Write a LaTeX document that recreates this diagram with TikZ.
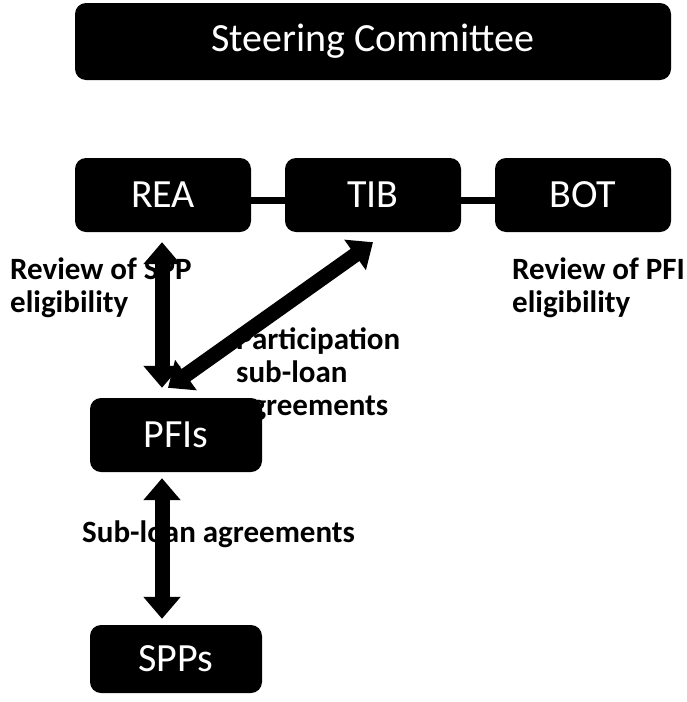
\documentclass[tikz,border=0pt]{standalone}
\usepackage{fontspec}
\setmainfont{Carlito}
\usetikzlibrary{arrows.meta,calc}
\tikzset{
  blackbox/.style={fill=black, rounded corners=11pt, text=white, inner sep=0pt,
    font=\fontsize{40}{46}\selectfont},
  lbl/.style={inner sep=0pt, align=left, font=\bfseries\fontsize{31}{33}\selectfont},
  bigarrow/.style={line width=15pt, {Triangle[width=36pt,length=22pt]}-{Triangle[width=36pt,length=22pt]}},
  link/.style={line width=7pt}
}
\begin{document}
\begin{tikzpicture}[x=1pt,y=-1pt]
\useasboundingbox (0,0) rectangle (686,702);
% labels (behind)
\node[lbl, anchor=north west] (l1) at (10,258) {Review of SPP\\eligibility};
\node[lbl, anchor=north west] (l2) at (512,258) {Review of PFI\\eligibility};
\node[lbl, anchor=north west] (l3) at (236,327) {Participation\\sub-loan\\agreements};
\node[lbl, anchor=base west] (l4) at (82,542) {Sub-loan agreements};
% boxes
\node[blackbox, minimum width=596pt, minimum height=77pt] (sc) at (373,41.5) {Steering Committee};
\node[blackbox, minimum width=176pt, minimum height=74pt] (rea) at (163,195) {REA};
\node[blackbox, minimum width=176pt, minimum height=74pt] (tib) at (373,195) {TIB};
\node[blackbox, minimum width=176pt, minimum height=74pt] (bot) at (583,195) {BOT};
\node[blackbox, minimum width=172pt, minimum height=74pt] (pfi) at (176,435) {PFIs};
\node[blackbox, minimum width=172pt, minimum height=68pt] (spp) at (176,659) {SPPs};
% connectors
\draw[link] ([yshift=-5pt]rea.east) -- ([yshift=-5pt]tib.west);
\draw[link] ([yshift=-5pt]tib.east) -- ([yshift=-5pt]bot.west);
\draw[bigarrow] ($(rea.south)+(-1,10)$) -- ($(pfi.north)+(-14,-10)$);
\draw[bigarrow] ($(tib.south)+(0,10)$) -- ($(pfi.north)+(-8,-10)$);
\draw[bigarrow] ($(pfi.south)+(-14,6)$) -- ($(spp.north)+(-14,-6)$);
\end{tikzpicture}
\end{document}
